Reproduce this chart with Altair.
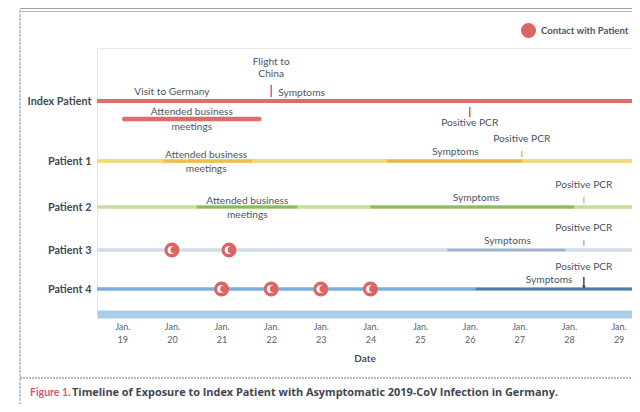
import json
import altair as alt
import pandas as pd

# ---------------- data ----------------
rows = ["Index Patient", "Patient 1", "Patient 2", "Patient 3", "Patient 4"]
days = list(range(19, 30))
month_label = "Jan."
x_domain = [18.49, 29.27]

# timeline segments: whole-period base lines, then highlighted periods
seg_row = ["Index Patient", "Patient 1", "Patient 2", "Patient 3", "Patient 4",
           "Patient 1", "Patient 1", "Patient 2", "Patient 2", "Patient 3", "Patient 4"]
seg_start = [18.49, 18.49, 18.49, 18.49, 18.49, 19.83, 24.34, 20.5, 24.0, 25.55, 26.12]
seg_end = [29.27, 29.27, 29.27, 29.27, 29.27, 21.62, 27.06, 22.53, 28.1, 27.93, 29.27]
seg_kind = ["index", "p1", "p2", "p3", "p4",
            "p1 meet", "p1 sym", "p2 meet", "p2 sym", "p3 sym", "p4 sym"]

# index patient's business meetings (drawn under its line)
meet_row = ["Index Patient"]
meet_start = [19.04]
meet_end = [21.76]

# single-day events (flight, positive PCR)
ev_row = ["Index Patient", "Index Patient", "Patient 1", "Patient 2", "Patient 3", "Patient 4"]
ev_day = [22.0, 26.0, 27.05, 28.3, 28.3, 28.3]
ev_side = ["flight", "below", "above", "above", "above", "arrow"]

# contacts with the index patient
contact_row = ["Patient 3", "Patient 3", "Patient 4", "Patient 4", "Patient 4", "Patient 4"]
contact_day = [20.0, 21.15, 21.0, 22.0, 23.0, 24.0]
contact_label = "Contact with Patient"

# annotations
ann_row = ["Index Patient", "Index Patient", "Index Patient", "Index Patient", "Index Patient",
           "Patient 1", "Patient 1", "Patient 1",
           "Patient 2", "Patient 2", "Patient 2",
           "Patient 3", "Patient 3",
           "Patient 4", "Patient 4"]
ann_day = [20.0, 22.0, 22.0, 20.4, 26.0,
           20.69, 25.71, 27.05,
           21.52, 26.13, 28.3,
           26.76, 28.3,
           27.6, 28.3]
ann_text = ["Visit to Germany", "Flight to\nChina", "Symptoms", "Attended business\nmeetings", "Positive PCR",
            "Attended business\nmeetings", "Symptoms", "Positive PCR",
            "Attended business\nmeetings", "Symptoms", "Positive PCR",
            "Symptoms", "Positive PCR",
            "Symptoms", "Positive PCR"]
ann_place = ["above", "high", "right", "subbar", "below",
             "bar", "above", "pcr",
             "bar", "above", "pcr",
             "above", "pcr",
             "above", "pcr"]

caption_fig = "Figure 1."
caption_text = "Timeline of Exposure to Index Patient with Asymptomatic 2019-CoV Infection in Germany."
x_title = "Date"

# ---------------- styles ----------------
FONT = "Lato"
TXT = "#4c5563"
kind_colors = {
    "index": "#e36a6a", "p1": "#f5d97c", "p2": "#c6de9d", "p3": "#cfdded", "p4": "#7cafd9",
    "p1 meet": "#ecc04e", "p1 sym": "#eab84a", "p2 meet": "#88bd63", "p2 sym": "#88bd63",
    "p3 sym": "#9fb1c8", "p4 sym": "#4f7fa8",
}
kind_widths = {
    "index": 4, "p1": 2.5, "p2": 2.5, "p3": 2.5, "p4": 3.5,
    "p1 meet": 4, "p1 sym": 4, "p2 meet": 4, "p2 sym": 4, "p3 sym": 3.5, "p4 sym": 4.5,
}
tick_colors = {"Index Patient": "#e05a5a", "Patient 1": "#dcbf4f", "Patient 2": "#b9c4b4",
               "Patient 3": "#aab4c0", "Patient 4": "#3f4650"}
row_pixels = [53, 113, 159, 202, 241]
place_style = {
    "above": dict(dy=-9, align="center", lineHeight=12),
    "high": dict(dy=-39, align="center", lineHeight=12),
    "right": dict(dy=-8, dx=7, align="left", lineHeight=12),
    "subbar": dict(dy=11, align="center", lineHeight=15),
    "below": dict(dy=22, align="center", lineHeight=12),
    "bar": dict(dy=-6, align="center", lineHeight=14),
    "pcr": dict(dy=-22, align="center", lineHeight=12),
}
tick_style = {
    "flight": (-16, -4), "above": (-10, -4), "below": (6, 16), "arrow": (-12, -1),
}

W, H = 535, 266

# ---------------- tables ----------------
def idx(names):
    return [rows.index(n) for n in names]

seg_df = pd.DataFrame({"row": seg_row, "ri": idx(seg_row), "start": seg_start,
                       "end": seg_end, "kind": seg_kind})
meet_df = pd.DataFrame({"row": meet_row, "ri": idx(meet_row), "start": meet_start, "end": meet_end})
ev_df = pd.DataFrame({"row": ev_row, "ri": idx(ev_row), "day": ev_day, "side": ev_side,
                      "tcolor": [tick_colors[r] for r in ev_row]})
con_df = pd.DataFrame({"row": contact_row, "ri": idx(contact_row), "day": contact_day,
                       "label": [contact_label] * len(contact_day)})
ann_df = pd.DataFrame({"row": ann_row, "ri": idx(ann_row), "day": ann_day,
                       "text": ann_text, "place": ann_place})

xscale = alt.Scale(domain=x_domain, nice=False, zero=False)
yscale = alt.Scale(domain=list(range(len(rows))), range=row_pixels, nice=False, zero=False)

xaxis = alt.Axis(values=days, grid=False, ticks=False, format="d",
                 labelExpr="['%s', datum.label]" % month_label,
                 labelFont=FONT, labelFontSize=9, labelColor="#59616b", labelLineHeight=13,
                 labelPadding=8, domainColor="#aacde9", domainWidth=8,
                 title=x_title, titleFont=FONT, titleFontSize=10, titleFontWeight="bold",
                 titleColor="#4a525c", titlePadding=9)
yaxis = alt.Axis(values=list(range(len(rows))), grid=False, ticks=False, domain=False,
                 labelExpr="%s[datum.value]" % json.dumps(rows),
                 labelFont=FONT, labelFontSize=10.8, labelFontWeight="bold", labelColor="#414954",
                 labelPadding=6, title=None)

X = lambda f: alt.X(f, scale=xscale, axis=xaxis)
Y = alt.Y("ri:Q", scale=yscale, axis=yaxis)

segments = alt.Chart(seg_df).mark_rule(strokeCap="butt").encode(
    x=X("start:Q"), x2="end:Q", y=Y,
    color=alt.Color("kind:N", scale=alt.Scale(domain=list(kind_colors), range=list(kind_colors.values())), legend=None),
    strokeWidth=alt.StrokeWidth("kind:N", scale=alt.Scale(domain=list(kind_widths), range=list(kind_widths.values())), legend=None),
)

meetings = alt.Chart(meet_df).mark_rule(strokeCap="round", strokeWidth=4.5, color=kind_colors["index"], yOffset=18).encode(
    x=X("start:Q"), x2="end:Q", y=Y,
)

tick_layers = []
for side, (o1, o2) in tick_style.items():
    tick_layers.append(
        alt.Chart(ev_df).transform_filter(alt.datum.side == side)
        .mark_rule(strokeWidth=1.5, yOffset=o1, y2Offset=o2)
        .encode(x=X("day:Q"), y=Y, y2="ri:Q",
                color=alt.Color("tcolor:N", scale=None, legend=None))
    )
arrow_head = alt.Chart(ev_df).transform_filter(alt.datum.side == "arrow").mark_point(
    shape="triangle-down", filled=True, size=14, yOffset=-2, opacity=1
).encode(x=X("day:Q"), y=Y, color=alt.Color("tcolor:N", scale=None, legend=None))

contacts = alt.Chart(con_df).mark_circle(size=225, opacity=1).encode(
    x=X("day:Q"), y=Y,
    color=alt.Color("label:N", scale=alt.Scale(domain=[contact_label], range=["#dc6461"]),
                    legend=alt.Legend(title=None, orient="none", legendX=423, legendY=-26,
                                      symbolSize=225, symbolType="circle", labelFont=FONT,
                                      labelFontSize=9.5, labelFontWeight="bold", labelColor="#4a5563",
                                      padding=0, labelOffset=4)),
)
cres_w = alt.Chart(con_df).mark_circle(size=60, opacity=1, color="white", xOffset=-0.5).encode(x=X("day:Q"), y=Y)
cres_r = alt.Chart(con_df).mark_circle(size=40, opacity=1, color="#dc6461", xOffset=1.8).encode(x=X("day:Q"), y=Y)

text_layers = []
for place, st in place_style.items():
    text_layers.append(
        alt.Chart(ann_df).transform_filter(alt.datum.place == place)
        .mark_text(font=FONT, fontSize=10.2, color=TXT, baseline="middle", lineBreak="\n", **st)
        .encode(x=X("day:Q"), y=Y, text="text:N")
    )

# frame and caption decorations (page furniture, positioned in pixels)
deco = pd.DataFrame({"k": [0]})
frame_color = "#9aa2ad"
frame = [
    alt.Chart(deco).mark_rule(color=frame_color, strokeWidth=1.2, strokeDash=[3, 1]).encode(
        x=alt.value(-77), y=alt.value(-38), y2=alt.value(356)),
    alt.Chart(deco).mark_rule(color=frame_color, strokeWidth=1).encode(
        x=alt.value(-77), x2=alt.value(W), y=alt.value(-39.5)),
    alt.Chart(deco).mark_rule(color="#b5bcc5", strokeWidth=1).encode(
        x=alt.value(-77), x2=alt.value(W), y=alt.value(-36.5)),
    alt.Chart(deco).mark_rule(color=frame_color, strokeWidth=1.5, strokeDash=[2, 1]).encode(
        x=alt.value(-77), x2=alt.value(W), y=alt.value(330)),
    alt.Chart(deco).mark_text(text=caption_fig, font=FONT, fontSize=10.5, fontWeight="bold",
                              color="#d9577a", align="left", baseline="middle").encode(
        x=alt.value(-67), y=alt.value(345)),
    alt.Chart(deco).mark_text(text=caption_text, font="Open Sans", fontSize=10.9, fontWeight="bold",
                              color="#3e4652", align="left", baseline="middle").encode(
        x=alt.value(-25), y=alt.value(345)),
]

chart = alt.layer(
    segments, meetings, *tick_layers, arrow_head, contacts, cres_w, cres_r, *text_layers, *frame
).resolve_scale(color="independent", strokeWidth="independent").properties(
    width=W, height=H,
    autosize=alt.AutoSizeParams(type="none"),
    padding={"left": 89, "top": 40, "right": 0, "bottom": 90},
    background="white",
).configure_view(stroke="#e6eaef", strokeWidth=1)

chart.save("out.html", embed_options={"renderer": "svg", "actions": False})
